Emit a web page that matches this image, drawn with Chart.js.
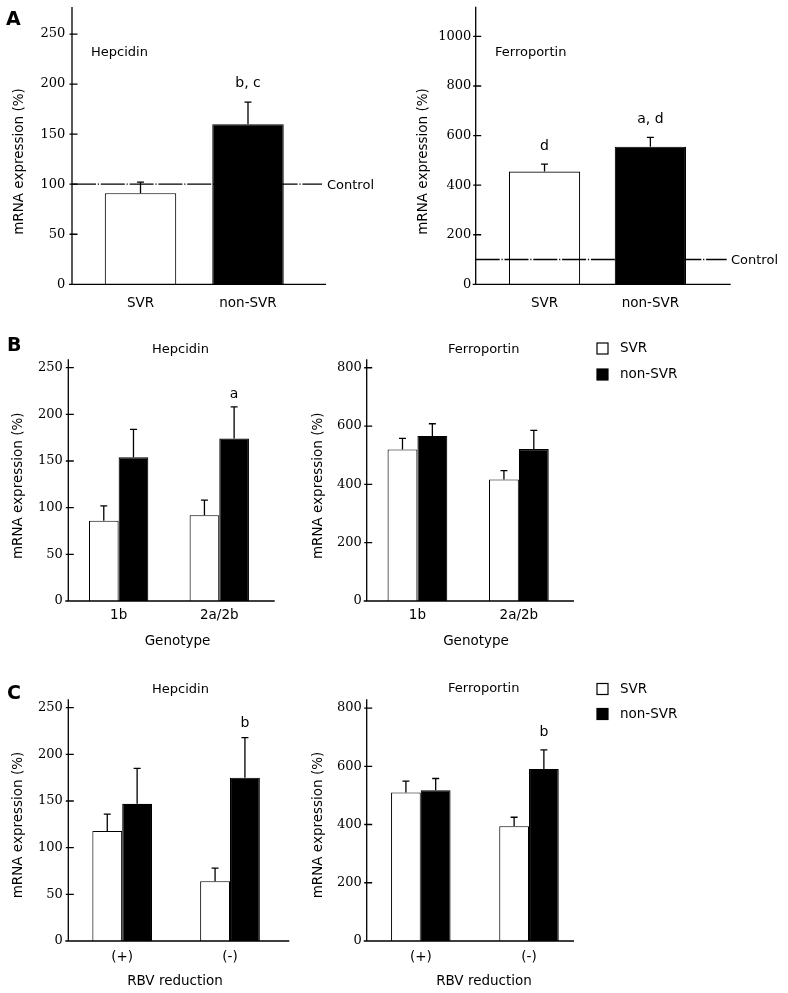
<!DOCTYPE html>
<html>
<head>
<meta charset="utf-8">
<script src="https://cdn.jsdelivr.net/npm/chart.js@4.4.1/dist/chart.umd.min.js"></script>
<style>
html, body { margin: 0; padding: 0; background: #fff; }
#wrap { position: relative; width: 788px; height: 993px; overflow: hidden; background: #fff; }
#wrap canvas { position: absolute; left: 0; top: -40px; }
</style>
</head>
<body>
<div id="wrap">
  <canvas id="aHep" width="788" height="1033"></canvas>
  <canvas id="aFer" width="788" height="1033"></canvas>
  <canvas id="bHep" width="788" height="1033"></canvas>
  <canvas id="bFer" width="788" height="1033"></canvas>
  <canvas id="cHep" width="788" height="1033"></canvas>
  <canvas id="cFer" width="788" height="1033"></canvas>
</div>
<script>
// ---- データ ----
var seriesNames = ["SVR", "non-SVR"];
var controlValue = 100;

// A: 全体
var groupsA = ["SVR", "non-SVR"];
var hepcidinA = [91, 160];
var hepcidinAErr = [11, 22];
var hepcidinANote = ["", "b, c"];
var ferroportinA = [455, 555];
var ferroportinAErr = [30, 38];
var ferroportinANote = ["d", "a, d"];

// B: ジェノタイプ別
var genotypes = ["1b", "2a/2b"];
var hepcidinBSvr = [86, 92];
var hepcidinBSvrErr = [16, 16];
var hepcidinBNon = [154, 174];
var hepcidinBNonErr = [30, 34];
var hepcidinBNote = ["", "a"];
var ferroportinBSvr = [520, 417];
var ferroportinBSvrErr = [38, 30];
var ferroportinBNon = [566, 521];
var ferroportinBNonErr = [42, 64];
var ferroportinBNote = ["", ""];

// C: RBV減量の有無
var rbvGroups = ["(+)", "(-)"];
var hepcidinCSvr = [118, 64];
var hepcidinCSvrErr = [18, 14];
var hepcidinCNon = [147, 175];
var hepcidinCNonErr = [38, 43];
var hepcidinCNote = ["", "b"];
var ferroportinCSvr = [510, 394];
var ferroportinCSvrErr = [39, 31];
var ferroportinCNon = [518, 591];
var ferroportinCNonErr = [40, 65];
var ferroportinCNote = ["", "b"];

// 目盛り
var hepcidinTicks = [0, 50, 100, 150, 200, 250];
var ferroportinTicksA = [0, 200, 400, 600, 800, 1000];
var ferroportinTicks = [0, 200, 400, 600, 800];

// ---- 共通設定 ----
var W = 788, H = 993, OFF = 40;
var SANS = "'DejaVu Sans', Verdana, sans-serif";
var SERIF = "'DejaVu Serif', 'Liberation Serif', serif";
Chart.defaults.color = '#000';

// A用：1系列で白・黒
function singleSet(values, errs, notes, bp) {
    return [{
        label: '',
        data: values,
        err: errs,
        note: notes,
        backgroundColor: ['#fff', '#000'],
        borderColor: '#000',
        borderWidth: 1.1,
        barPercentage: bp,
        categoryPercentage: 1
    }];
}

// B,C用：SVR(白)とnon-SVR(黒)
function pairSets(svr, svrErr, non, nonErr, nonNote, cp) {
    return [
        { label: seriesNames[0], data: svr, err: svrErr, note: ["", ""],
          backgroundColor: '#fff', borderColor: '#000', borderWidth: 1.1,
          barPercentage: 1, categoryPercentage: cp },
        { label: seriesNames[1], data: non, err: nonErr, note: nonNote,
          backgroundColor: '#000', borderColor: '#000', borderWidth: 1.1,
          barPercentage: 1, categoryPercentage: cp }
    ];
}

function txt(ctx, s, x, y, font, align) {
    ctx.font = font;
    ctx.textAlign = align || 'center';
    ctx.textBaseline = 'middle';
    ctx.fillStyle = '#000';
    ctx.fillText(s, x, y + OFF);
}

// 軸・誤差棒・注記などを描くプラグイン
function decoPlugin(p) {
    return {
        id: 'deco',
        afterDatasetsDraw: function (chart) {
            var ctx = chart.ctx;
            var ys = chart.scales.y;
            ctx.save();
            ctx.strokeStyle = '#000';
            ctx.lineWidth = 1.3;

            // 対照ライン(一点鎖線)
            if (p.control) {
                var cy = ys.getPixelForValue(controlValue);
                ctx.setLineDash([24, 1.8, 1.2, 1.8]);
                ctx.beginPath();
                ctx.moveTo(p.axisX, cy);
                ctx.lineTo(p.control.lineEnd, cy);
                ctx.stroke();
                ctx.setLineDash([]);
                txt(ctx, "Control", p.control.labelX, cy - OFF + 1.5, "13px " + SANS, 'left');
            }

            // 誤差棒と有意差の記号
            chart.data.datasets.forEach(function (ds, di) {
                var meta = chart.getDatasetMeta(di);
                meta.data.forEach(function (bar, i) {
                    var top = ys.getPixelForValue(ds.data[i] + ds.err[i]);
                    ctx.beginPath();
                    ctx.moveTo(bar.x, bar.y);
                    ctx.lineTo(bar.x, top);
                    ctx.moveTo(bar.x - 3.5, top);
                    ctx.lineTo(bar.x + 3.5, top);
                    ctx.stroke();
                    if (ds.note && ds.note[i]) {
                        txt(ctx, ds.note[i], bar.x, top - OFF - p.noteGap, "14px " + SANS);
                    }
                });
            });

            // 軸線と目盛り
            var bottom = p.bottom + OFF;
            ctx.beginPath();
            ctx.moveTo(p.axisX, bottom);
            ctx.lineTo(p.axisX, p.top + OFF);
            ctx.moveTo(p.axisX - 3, bottom);
            ctx.lineTo(p.axisRight, bottom);
            p.ticks.forEach(function (v) {
                var ty = ys.getPixelForValue(v);
                ctx.moveTo(p.axisX - 2.5, ty);
                ctx.lineTo(p.axisX + 5.5, ty);
            });
            ctx.stroke();
            ctx.restore();
        },
        afterDraw: function (chart) {
            var ctx = chart.ctx;
            ctx.save();
            // パネルタイトル
            txt(ctx, p.title.text, p.title.x, p.title.y, "13px " + SANS, p.title.align);
            // 図番号
            if (p.letter) {
                txt(ctx, p.letter.text, p.letter.x, p.letter.y, "bold 19px " + SANS, 'left');
            }
            // 縦軸タイトル
            ctx.translate(p.yTitle.x, p.yTitle.y + OFF);
            ctx.rotate(-Math.PI / 2);
            ctx.font = "13.5px " + SANS;
            ctx.textAlign = 'center';
            ctx.textBaseline = 'middle';
            ctx.fillStyle = '#000';
            ctx.fillText("mRNA expression (%)", 0, 0);
            ctx.setTransform(1, 0, 0, 1, 0, 0);
            // 横軸タイトル
            if (p.xTitle) {
                txt(ctx, p.xTitle.text, p.xTitle.x, p.xTitle.y, "13.5px " + SANS);
            }
            // 凡例
            if (p.legend) {
                chart.data.datasets.forEach(function (ds, di) {
                    var ry = p.legend.rows[di] + OFF;
                    ctx.fillStyle = ds.backgroundColor;
                    ctx.fillRect(p.legend.x, ry - 5.5, 11, 11);
                    ctx.strokeStyle = '#000';
                    ctx.lineWidth = 1.2;
                    ctx.strokeRect(p.legend.x, ry - 5.5, 11, 11);
                    txt(ctx, ds.label, p.legend.x + 23, p.legend.rows[di], "13.5px " + SANS, 'left');
                });
            }
            ctx.restore();
        }
    };
}

function makePanel(id, labels, datasets, p) {
    return new Chart(document.getElementById(id), {
        type: 'bar',
        data: { labels: labels, datasets: datasets },
        options: {
            responsive: false,
            animation: false,
            events: [],
            layout: { padding: { top: p.top + OFF, right: W - p.bandRight, left: 0, bottom: 0 } },
            plugins: { legend: { display: false }, tooltip: { enabled: false } },
            scales: {
                x: {
                    grid: { display: false, drawTicks: false },
                    border: { display: false },
                    ticks: { font: { family: SANS, size: 13.5 }, padding: p.xPad, maxRotation: 0, autoSkip: false },
                    afterFit: function (s) { s.height = H + OFF - (p.bottom + OFF); }
                },
                y: {
                    min: 0,
                    max: p.max,
                    grid: { display: false, drawTicks: false },
                    border: { display: false },
                    ticks: {
                        font: { family: SERIF, size: 13 },
                        padding: p.bandLeft - p.axisX + p.gap,
                        callback: function (v) { return String(v); }
                    },
                    afterBuildTicks: function (s) { s.ticks = p.ticks.map(function (v) { return { value: v }; }); },
                    afterFit: function (s) { s.width = p.bandLeft; }
                }
            }
        },
        plugins: [decoPlugin(p)]
    });
}

// ---- A ----
makePanel('aHep', groupsA, singleSet(hepcidinA, hepcidinAErr, hepcidinANote, 0.665), {
    axisX: 72, axisRight: 326, top: 7, bottom: 284.3, bandLeft: 86.75, bandRight: 301.75,
    max: 277, ticks: hepcidinTicks, gap: 6.7, xPad: 11, noteGap: 19,
    control: { lineEnd: 322, labelX: 327 },
    title: { text: "Hepcidin", x: 91, y: 53, align: 'left' },
    letter: { text: "A", x: 6, y: 20.5 },
    yTitle: { x: 19, y: 161.5 }
});
makePanel('aFer', groupsA, singleSet(ferroportinA, ferroportinAErr, ferroportinANote, 0.673), {
    axisX: 475.7, axisRight: 730.7, top: 6.7, bottom: 284.3, bandLeft: 491.6, bandRight: 703.3,
    max: 1120, ticks: ferroportinTicksA, gap: 4.4, xPad: 11, noteGap: 18,
    control: { lineEnd: 726.7, labelX: 731 },
    title: { text: "Ferroportin", x: 495, y: 53, align: 'left' },
    yTitle: { x: 423.5, y: 161.5 }
});

// ---- B ----
makePanel('bHep', genotypes, pairSets(hepcidinBSvr, hepcidinBSvrErr, hepcidinBNon, hepcidinBNonErr, hepcidinBNote, 0.59), {
    axisX: 68.3, axisRight: 274.7, top: 359.3, bottom: 601, bandLeft: 68.3, bandRight: 269.6,
    max: 259, ticks: hepcidinTicks, gap: 5.6, xPad: 6.7, noteGap: 13,
    title: { text: "Hepcidin", x: 180.5, y: 349.3 },
    letter: { text: "B", x: 7, y: 346.5 },
    yTitle: { x: 18.5, y: 485.8 },
    xTitle: { text: "Genotype", x: 177.5, y: 641.7 }
});
makePanel('bFer', genotypes, pairSets(ferroportinBSvr, ferroportinBSvrErr, ferroportinBNon, ferroportinBNonErr, ferroportinBNote, 0.589), {
    axisX: 366.7, axisRight: 574, top: 359.3, bottom: 601, bandLeft: 366.7, bandRight: 569.6,
    max: 829, ticks: ferroportinTicks, gap: 5, xPad: 6.7, noteGap: 13,
    title: { text: "Ferroportin", x: 483.7, y: 349.3 },
    yTitle: { x: 318.3, y: 485.8 },
    xTitle: { text: "Genotype", x: 476, y: 641.7 },
    legend: { x: 597, rows: [348.5, 374.5] }
});

// ---- C ----
makePanel('cHep', rbvGroups, pairSets(hepcidinCSvr, hepcidinCSvrErr, hepcidinCNon, hepcidinCNonErr, hepcidinCNote, 0.554), {
    axisX: 68.3, axisRight: 289.3, top: 699.3, bottom: 941, bandLeft: 68.3, bandRight: 283.9,
    max: 259, ticks: hepcidinTicks, gap: 5.6, xPad: 8.4, noteGap: 14,
    title: { text: "Hepcidin", x: 180.5, y: 689.3 },
    letter: { text: "C", x: 7, y: 694 },
    yTitle: { x: 18.3, y: 825 },
    xTitle: { text: "RBV reduction", x: 175, y: 981.7 }
});
makePanel('cFer', rbvGroups, pairSets(ferroportinCSvr, ferroportinCSvrErr, ferroportinCNon, ferroportinCNonErr, ferroportinCNote, 0.55), {
    axisX: 366.7, axisRight: 574, top: 699.3, bottom: 941, bandLeft: 366.7, bandRight: 583.1,
    max: 830, ticks: ferroportinTicks, gap: 5, xPad: 8.4, noteGap: 18,
    title: { text: "Ferroportin", x: 483.7, y: 689 },
    yTitle: { x: 318.3, y: 825 },
    xTitle: { text: "RBV reduction", x: 484, y: 981.7 },
    legend: { x: 597, rows: [689, 714] }
});
</script>
</body>
</html>
